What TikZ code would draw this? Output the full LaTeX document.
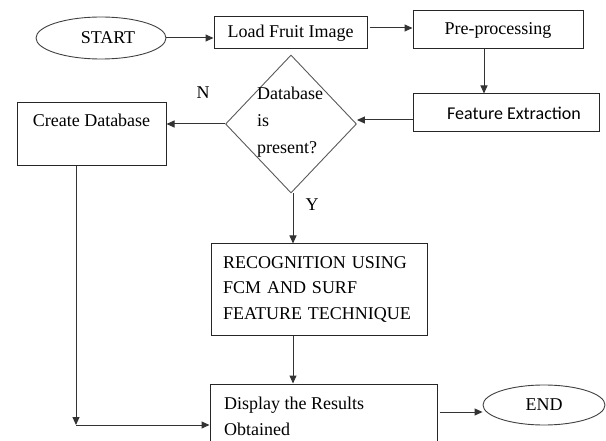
\documentclass[tikz,border=0pt]{standalone}
\usepackage{fontspec}
\setmainfont{Liberation Serif}
\newfontfamily\calfont{Carlito}
\usetikzlibrary{shapes.geometric,arrows.meta,calc}

\begin{document}
\begin{tikzpicture}[x=1pt,y=-1pt,
  every node/.style={font=\fontsize{18}{25.5}\selectfont, inner sep=0pt},
  box/.style={draw=black!85, line width=1pt, rectangle},
  oval/.style={draw=black!75, line width=0.9pt, ellipse},
  decision/.style={draw=black!65, line width=0.9pt, diamond},
  arr/.style={draw=black!80, line width=1pt, -{Triangle[length=8pt,width=7pt]}},
  link/.style={draw=black!80, line width=1pt}]
\useasboundingbox (0,0) rectangle (606,441);

% process boxes and terminals
\node[oval, minimum width=130pt, minimum height=42pt] (start) at (101,38) {\hspace*{14pt}START};
\node[box, minimum width=153pt, minimum height=32pt] (load) at (290.5,33) {Load Fruit Image};
\node[box, minimum width=170pt, minimum height=38pt] (pre) at (498,30) {Pre-processing};
\node[box, minimum width=186pt, minimum height=38pt,
      label={[xshift=8pt, font=\calfont\fontsize{18}{22}\selectfont]center:Feature Extraction}] (feat) at (506,113) {};
\node[decision, minimum width=131pt, minimum height=138pt] (dec) at (291,124) {};
\node[anchor=north west, align=left, font=\fontsize{18}{27}\selectfont] (qtext) at (257,87) {Database\\is\\present?};
\node[box, minimum width=149pt, minimum height=63pt] (create) at (91.5,134.5) {};
\node (createtxt) at ($(create.north)+(0,18)$) {Create Database};
\node[box, minimum width=216pt, minimum height=91pt, text width=192pt, align=left] (rec) at (319,289.5)
  {RECOGNITION USING\\FCM AND SURF\\FEATURE TECHNIQUE};
\node[box, minimum width=227pt, minimum height=90pt] (disp) at (323.5,429) {};
\node[anchor=north west, align=left] (disptxt) at (224,397) {Display the Results\\Obtained};
\node[oval, minimum width=122pt, minimum height=40pt] (end) at (544,405) {END};

% branch labels
\node (nlab) at (203,93) {N};
\node (ylab) at (312,205) {Y};

% connectors
\draw[arr] (start.east) -- (start.east -| load.west);
\coordinate (lp) at ([xshift=2pt,yshift=5pt]load.east);
\draw[arr] (lp) -- (lp -| pre.west);
\coordinate (pf) at ([xshift=-14pt]pre.south);
\draw[arr] (pf) -- (pf |- feat.north);
\coordinate (fd) at ([yshift=-7pt]feat.west);
\draw[arr] (fd) -- (fd -| dec.east);
\draw[arr] (dec.west) -- (dec.west -| create.east);
\coordinate (ds) at ([xshift=2pt]dec.south);
\draw[arr] (ds) -- (ds |- rec.north);
\draw[arr] (ds |- rec.south) -- (ds |- disp.north);
\coordinate (cd) at ([xshift=-15.5pt]create.south);
\coordinate (bend) at (76,425);
\draw[arr] (cd) -- (cd |- bend);
\draw[arr] (bend) -- (bend -| disp.west);
\coordinate (de) at ([xshift=2pt,yshift=17pt]disp.east);
\draw[arr] (de) -- (de -| end.west);
\end{tikzpicture}
\end{document}
